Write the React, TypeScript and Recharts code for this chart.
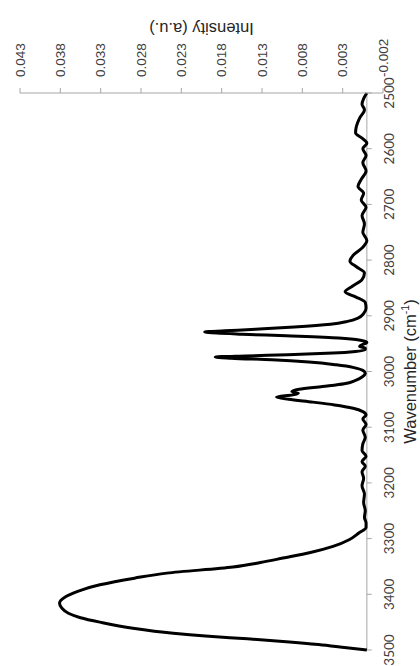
import { LineChart, Line, XAxis, YAxis, ReferenceLine, Label } from "recharts"

// IR spectrum (wavenumber in cm-1, intensity in a.u.)
const wavenumbers = [
  2500, 2510, 2520, 2530, 2545, 2560, 2572, 2581, 2590, 2600,
  2612, 2625, 2640, 2655, 2668, 2680, 2692, 2705, 2720, 2735,
  2750, 2765, 2777, 2790, 2802, 2812, 2823, 2835, 2847, 2857,
  2866, 2876, 2886, 2896, 2904, 2910, 2915, 2920, 2924, 2927,
  2929, 2931, 2933, 2936, 2940, 2944, 2948, 2952, 2955, 2958,
  2961, 2964, 2967, 2970, 2972, 2974, 2976, 2979, 2983, 2988,
  2993, 2998, 3003, 3010, 3016, 3022, 3027, 3032, 3036, 3039,
  3042, 3046, 3050, 3055, 3060, 3066, 3072, 3078, 3085, 3095,
  3105, 3118, 3130, 3142, 3152, 3162, 3170, 3180, 3192, 3205,
  3220, 3235, 3250, 3262, 3272, 3280, 3290, 3302, 3314, 3325,
  3335, 3343, 3351, 3362, 3371, 3383, 3392, 3398, 3405, 3416,
  3425, 3434, 3442, 3450, 3461, 3470, 3475, 3480, 3485, 3490,
  3496, 3500,
]

const intensity = [
  0.0000, 0.0004, 0.0006, 0.0003, 0.0009, 0.0013, 0.0014, 0.0006, 0.0000, 0.0005,
  0.0001, 0.0005, 0.0001, 0.0007, 0.0011, 0.0004, 0.0007, 0.0001, 0.0006, 0.0003,
  0.0005, 0.0000, 0.0005, 0.0016, 0.0021, 0.0013, 0.0003, 0.0006, 0.0018, 0.0027,
  0.0014, 0.0002, 0.0001, 0.0004, 0.0011, 0.0024, 0.0045, 0.0090, 0.0138, 0.0176,
  0.0201, 0.0186, 0.0155, 0.0100, 0.0035, 0.0008, 0.0000, 0.0006, 0.0009, 0.0002,
  0.0002, 0.0014, 0.0042, 0.0098, 0.0150, 0.0188, 0.0168, 0.0118, 0.0072, 0.0038,
  0.0016, 0.0005, 0.0002, 0.0006, 0.0014, 0.0028, 0.0055, 0.0084, 0.0093, 0.0085,
  0.0092, 0.0112, 0.0097, 0.0067, 0.0040, 0.0017, 0.0005, 0.0001, 0.0005, 0.0001,
  0.0005, 0.0002, 0.0005, 0.0006, 0.0001, 0.0006, 0.0002, 0.0006, 0.0004, 0.0006,
  0.0003, 0.0004, 0.0002, 0.0003, 0.0001, 0.0001, 0.0010, 0.0022, 0.0042, 0.0070,
  0.0104, 0.0132, 0.0166, 0.0248, 0.0288, 0.0331, 0.0353, 0.0364, 0.0374, 0.0381,
  0.0378, 0.0370, 0.0355, 0.0331, 0.0290, 0.0240, 0.0200, 0.0148, 0.0100, 0.0060,
  0.0025, 0.0000,
]

const wavenumberTicks = [2500, 2600, 2700, 2800, 2900, 3000, 3100, 3200, 3300, 3400, 3500]
const intensityTicks = [-0.002, 0.003, 0.008, 0.013, 0.018, 0.023, 0.028, 0.033, 0.038, 0.043]

const COLORS = {
  line: "#000000",
  axis: "#A6A6A6",
  text: "#404040",
  title: "#262626",
}

const ARIAL = "'Liberation Sans', Arial, sans-serif"

const data = wavenumbers.map((wn, i) => ({ wn, value: intensity[i] }))

function IntensityTitle({ viewBox }: any) {
  const x = viewBox.x + viewBox.width - 23
  const y = viewBox.y + viewBox.height / 2
  return (
    <text
      x={x}
      y={y}
      transform={`rotate(-90 ${x} ${y})`}
      textAnchor="middle"
      fontSize={16.5}
      fontFamily={ARIAL}
      fill={COLORS.title}
    >
      Intensity (a.u.)
    </text>
  )
}

function WavenumberTitle({ viewBox }: any) {
  const x = viewBox.x + viewBox.width / 2
  const y = viewBox.y + viewBox.height - 4
  return (
    <text x={x} y={y} textAnchor="middle" fontSize={16.5} fontFamily={ARIAL} fill={COLORS.title}>
      Wavenumber (cm
      <tspan dy={-7} fontSize={10.5}>-1</tspan>
      <tspan dy={7}>)</tspan>
    </text>
  )
}

export default function App() {
  return (
    <div style={{ position: "fixed", left: 0, top: 0, width: 420, height: 666, overflow: "hidden", background: "#fff" }}>
      {/* the chart is drawn landscape and turned a quarter turn, as in the reference */}
      <div
        style={{
          position: "absolute",
          left: 0,
          top: 0,
          width: 666,
          height: 420,
          transform: "translateY(666px) rotate(-90deg)",
          transformOrigin: "0 0",
        }}
      >
        <LineChart width={666} height={420} data={data} margin={{ top: 20, right: 0, bottom: 0, left: 16 }}>
          <XAxis
            type="number"
            dataKey="wn"
            domain={[2500, 3500]}
            ticks={wavenumberTicks}
            interval={0}
            reversed
            height={37}
            axisLine={false}
            tickLine={false}
            tickSize={0}
            tickMargin={1}
            tick={{ fontSize: 13.5, fill: COLORS.text, fontFamily: "Lato, sans-serif" }}
          >
            <Label content={<WavenumberTitle />} />
          </XAxis>
          <YAxis
            type="number"
            orientation="right"
            domain={[-0.002, 0.043]}
            ticks={intensityTicks}
            interval={0}
            width={93}
            axisLine={{ stroke: COLORS.axis }}
            tickLine={{ stroke: COLORS.axis }}
            tickSize={5}
            tickMargin={11}
            tickFormatter={(v: number) => v.toFixed(3)}
            tick={{ fontSize: 13.5, fill: COLORS.text, fontFamily: ARIAL }}
          >
            <Label content={<IntensityTitle />} />
          </YAxis>
          <ReferenceLine y={0} stroke={COLORS.axis} strokeWidth={1} />
          {wavenumberTicks.map((t) => (
            <ReferenceLine
              key={t}
              segment={[{ x: t, y: 0 }, { x: t, y: -0.0006 }]}
              stroke={COLORS.axis}
              strokeWidth={1}
            />
          ))}
          <Line
            type="monotone"
            dataKey="value"
            stroke={COLORS.line}
            strokeWidth={3}
            dot={false}
            activeDot={false}
            isAnimationActive={false}
          />
        </LineChart>
      </div>
    </div>
  )
}
